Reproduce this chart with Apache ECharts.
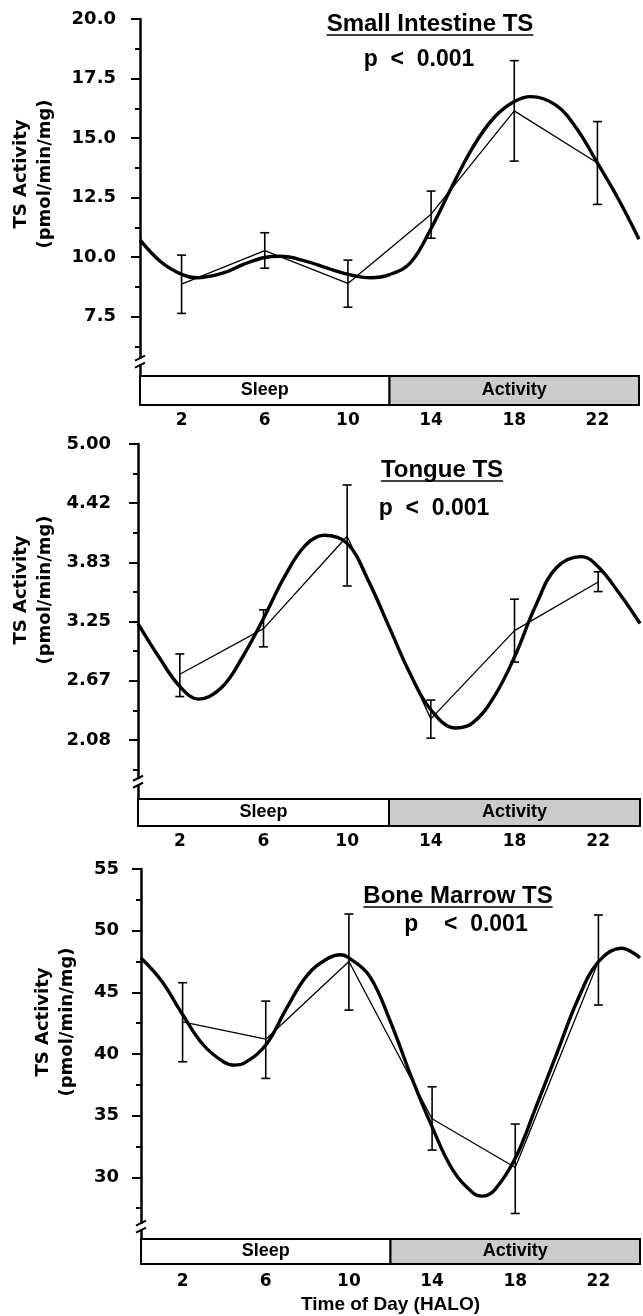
<!DOCTYPE html>
<html>
<head>
<meta charset="utf-8">
<title>TS activity by time of day</title>
<script src="https://cdn.jsdelivr.net/npm/echarts@6/dist/echarts.min.js"></script>
<style>
  html, body { margin: 0; padding: 0; background: #fff; }
  #chart { width: 643px; height: 1316px; }
</style>
</head>
<body>
<div id="chart"></div>
<script>
// sampling times (HALO)
const sampleHours = [2, 6, 10, 14, 18, 22];
const hourLabels = [2, 6, 10, 14, 18, 22];

// sleep / activity strip
const phaseNames = ['Sleep', 'Activity'];
const phaseStart = [0, 12];
const phaseEnd = [12, 24];

// Small Intestine TS (fitted curve read hourly plus at its turning points)
const intestineMean = [8.86, 10.27, 8.89, 11.8, 16.14, 13.95];
const intestineLow = [7.63, 9.53, 7.89, 10.79, 14.03, 12.21];
const intestineHigh = [10.08, 11.02, 9.87, 12.77, 18.25, 15.69];
const intestineFitHours = [0, 1, 2, 2.7, 4, 5, 6, 6.75, 8, 9, 10, 11.1, 12, 13, 14, 15, 16, 17, 18, 18.8, 20, 21, 22, 23, 24];
const intestineFit = [10.72, 9.8, 9.27, 9.13, 9.33, 9.7, 9.98, 10.03, 9.82, 9.53, 9.27, 9.13, 9.26, 9.75, 11.2, 12.95, 14.6, 15.83, 16.53, 16.74, 16.38, 15.4, 13.95, 12.45, 10.75];
const intestineTicks = [7.5, 10, 12.5, 15, 17.5, 20];

// Tongue TS
const tongueMean = [2.73, 3.18, 4.09, 2.29, 3.16, 3.64];
const tongueLow = [2.51, 3.0, 3.6, 2.1, 2.85, 3.545];
const tongueHigh = [2.93, 3.365, 4.596, 2.475, 3.47, 3.74];
const tongueFitHours = [0, 1, 2, 2.9, 4, 5, 6, 7, 8, 8.9, 10, 11, 12, 13, 14, 15.2, 16, 17, 18, 19, 20, 21.2, 22, 23, 24];
const tongueFit = [3.23, 2.9, 2.61, 2.485, 2.6, 2.9, 3.28, 3.69, 4.0, 4.1, 4.02, 3.66, 3.2, 2.74, 2.38, 2.2, 2.25, 2.5, 2.9, 3.4, 3.78, 3.89, 3.79, 3.53, 3.23];
const tongueTicks = [2.0833, 2.6667, 3.25, 3.8333, 4.4167, 5.0];

// Bone Marrow TS
const marrowMean = [42.6, 41.2, 47.5, 34.75, 30.8, 47.5];
const marrowLow = [39.37, 38.02, 43.56, 32.21, 27.07, 43.97];
const marrowHigh = [45.78, 44.29, 51.35, 37.34, 34.32, 51.27];
const marrowFitHours = [0, 1, 2, 3, 4, 4.5, 5, 6, 7, 8, 9, 9.6, 10, 11, 12, 13, 14, 15, 16, 16.4, 17, 18, 19, 20, 21, 22, 23.1, 24];
const marrowFit = [47.78, 45.9, 43.2, 40.73, 39.33, 39.1, 39.3, 40.73, 43.7, 46.4, 47.76, 48.05, 47.8, 46.3, 42.6, 38.15, 34.09, 30.59, 28.69, 28.48, 28.97, 31.54, 35.72, 40.05, 44.38, 47.48, 48.57, 47.8];
const marrowTicks = [30, 35, 40, 45, 50, 55];

const boldSans = '"Liberation Sans", Arial, sans-serif';
const wideSans = '"DejaVu Sans", sans-serif';

const panels = [
  { title: 'Small Intestine TS', p: 'p  <  0.001', mean: intestineMean, low: intestineLow, high: intestineHigh,
    fitHours: intestineFitHours, fit: intestineFit, ticks: intestineTicks,
    min: 5, max: 20, step: 2.5, digits: 1, brk: 5.6,
    plot: { left: 140, top: 19, width: 499, height: 357 }, strip: { top: 376, height: 29 },
    labelMargin: 24, xLabelMargin: 7, titleAt: [430, 24, 35], pAt: [419, 60], nameAt: [33, 174] },
  { title: 'Tongue TS', p: 'p  <  0.001', mean: tongueMean, low: tongueLow, high: tongueHigh,
    fitHours: tongueFitHours, fit: tongueFit, ticks: tongueTicks,
    min: 1.5, max: 5, step: 7 / 12, digits: 2, brk: 1.67,
    plot: { left: 138, top: 444, width: 502, height: 355 }, strip: { top: 799, height: 27 },
    labelMargin: 27, xLabelMargin: 7, titleAt: [442, 470, 481], pAt: [434, 509], nameAt: [33, 590] },
  { title: 'Bone Marrow TS', p: 'p    <  0.001', mean: marrowMean, low: marrowLow, high: marrowHigh,
    fitHours: marrowFitHours, fit: marrowFit, ticks: marrowTicks,
    min: 25, max: 55, step: 5, digits: 0, brk: 26,
    plot: { left: 141, top: 869, width: 499, height: 370 }, strip: { top: 1239, height: 25 },
    labelMargin: 22, xLabelMargin: 9, titleAt: [458, 896, 907], pAt: [466, 925], nameAt: [55, 1022] }
];

function errorBarItem(params, api) {
  const x = api.value(0);
  const lo = api.coord([x, api.value(1)]);
  const hi = api.coord([x, api.value(2)]);
  const half = 4.5;
  const style = { stroke: '#000', lineWidth: 1.6 };
  return {
    type: 'group',
    children: [
      { type: 'line', shape: { x1: lo[0], y1: lo[1], x2: hi[0], y2: hi[1] }, style: style },
      { type: 'line', shape: { x1: lo[0] - half, y1: lo[1], x2: lo[0] + half, y2: lo[1] }, style: style },
      { type: 'line', shape: { x1: hi[0] - half, y1: hi[1], x2: hi[0] + half, y2: hi[1] }, style: style }
    ]
  };
}

const phaseFill = ['#ffffff', '#cbcbcb'];
function phaseItem(params, api) {
  const a = api.coord([api.value(0), 1]);
  const b = api.coord([api.value(1), 0]);
  return {
    type: 'rect',
    shape: { x: a[0], y: a[1], width: b[0] - a[0], height: b[1] - a[1] },
    style: { fill: phaseFill[params.dataIndex], stroke: '#000', lineWidth: 2 },
    textContent: { style: { text: phaseNames[params.dataIndex], font: 'bold 18px ' + boldSans, fill: '#000' } },
    textConfig: { position: 'inside' }
  };
}

const grid = [], xAxis = [], yAxis = [], series = [], graphic = [];
const measure = document.createElement('canvas').getContext('2d');

panels.forEach(function (pn, i) {
  const g = i * 2;
  grid.push({ left: pn.plot.left, top: pn.plot.top, width: pn.plot.width, height: pn.plot.height });
  grid.push({ left: pn.plot.left, top: pn.strip.top, width: pn.plot.width, height: pn.strip.height });

  xAxis.push({ gridIndex: g, type: 'value', min: 0, max: 24, show: false });
  xAxis.push({
    gridIndex: g + 1, type: 'value', min: 0, max: 24, interval: 2,
    axisLine: { show: false }, axisTick: { show: false }, splitLine: { show: false },
    axisLabel: {
      margin: pn.xLabelMargin, color: '#000', fontFamily: wideSans, fontWeight: 'bold', fontSize: 17,
      formatter: function (v) { return hourLabels.indexOf(v) >= 0 ? String(v) : ''; }
    },
    name: i === 2 ? 'Time of Day (HALO)' : '',
    nameLocation: 'middle', nameGap: 31,
    nameTextStyle: { color: '#000', fontFamily: boldSans, fontWeight: 'bold', fontSize: 19 }
  });

  yAxis.push({
    gridIndex: g, type: 'value', min: pn.min, max: pn.max, interval: pn.step,
    axisLine: { show: true, lineStyle: { color: '#000', width: 2.5 } },
    axisTick: { show: true, length: 9, lineStyle: { color: '#000', width: 2 }, customValues: pn.ticks },
    minorTick: { show: true, splitNumber: 2, length: 5, lineStyle: { color: '#000', width: 2 } },
    splitLine: { show: false },
    axisLabel: {
      margin: pn.labelMargin, color: '#000', fontFamily: wideSans, fontWeight: 'bold', fontSize: 18,
      customValues: pn.ticks,
      formatter: function (v) { return Math.abs(v - pn.min) < 1e-6 ? '' : v.toFixed(pn.digits); }
    }
  });
  yAxis.push({ gridIndex: g + 1, type: 'value', min: 0, max: 1, show: false });

  series.push({
    type: 'custom', xAxisIndex: g, yAxisIndex: g, z: 2, renderItem: errorBarItem,
    data: sampleHours.map(function (h, k) { return [h, pn.low[k], pn.high[k]]; })
  });
  series.push({
    type: 'line', xAxisIndex: g, yAxisIndex: g, z: 3, symbol: 'none',
    lineStyle: { color: '#000', width: 1.3 },
    data: sampleHours.map(function (h, k) { return [h, pn.mean[k]]; })
  });
  series.push({
    type: 'line', xAxisIndex: g, yAxisIndex: g, z: 4, symbol: 'none', smooth: 0.4,
    lineStyle: { color: '#000', width: 3.4 },
    data: pn.fitHours.map(function (h, k) { return [h, pn.fit[k]]; })
  });
  series.push({
    type: 'custom', xAxisIndex: g + 1, yAxisIndex: g + 1, renderItem: phaseItem,
    data: phaseStart.map(function (s, k) { return [s, phaseEnd[k]]; })
  });

  // panel title (underlined) and p value
  const titleFont = 'bold 24px ' + boldSans;
  measure.font = titleFont;
  const tw = measure.measureText(pn.title).width;
  graphic.push({ type: 'text', x: pn.titleAt[0], y: pn.titleAt[1],
    style: { text: pn.title, font: titleFont, fill: '#000', align: 'center', verticalAlign: 'middle', textAlign: 'center', textVerticalAlign: 'middle' } });
  graphic.push({ type: 'line', shape: { x1: pn.titleAt[0] - tw / 2, y1: pn.titleAt[2], x2: pn.titleAt[0] + tw / 2, y2: pn.titleAt[2] },
    style: { stroke: '#000', lineWidth: 1.6 } });
  graphic.push({ type: 'text', x: pn.pAt[0], y: pn.pAt[1],
    style: { text: pn.p, font: 'bold 23px ' + boldSans, fill: '#000', align: 'center', verticalAlign: 'middle', textAlign: 'center', textVerticalAlign: 'middle' } });
  // y axis name, two lines, rotated
  graphic.push({ type: 'text', x: pn.nameAt[0], y: pn.nameAt[1], rotation: Math.PI / 2,
    style: { text: 'TS Activity\n(pmol/min/mg)', font: 'bold 18px ' + wideSans, lineHeight: 24, fill: '#000', align: 'center', verticalAlign: 'middle', textAlign: 'center', textVerticalAlign: 'middle' } });
});

const chart = echarts.init(document.getElementById('chart'));
chart.setOption({
  animation: false,
  backgroundColor: '#fff',
  grid: grid,
  xAxis: xAxis,
  yAxis: yAxis,
  series: series,
  graphic: graphic
});

// axis break marks just above each sleep/activity strip
const breaks = [];
panels.forEach(function (pn, i) {
  const pt = chart.convertToPixel({ gridIndex: i * 2 }, [0, pn.brk]);
  const x = pt[0], y = pt[1];
  breaks.push({ type: 'rect', shape: { x: x - 4, y: y - 3, width: 8, height: 6 }, style: { fill: '#fff' }, z: 100 });
  breaks.push({ type: 'line', shape: { x1: x - 5, y1: y - 1, x2: x + 5, y2: y - 6 }, style: { stroke: '#000', lineWidth: 2 }, z: 101 });
  breaks.push({ type: 'line', shape: { x1: x - 5, y1: y + 6, x2: x + 5, y2: y + 1 }, style: { stroke: '#000', lineWidth: 2 }, z: 101 });
});
chart.setOption({ graphic: graphic.concat(breaks) });
</script>
</body>
</html>
